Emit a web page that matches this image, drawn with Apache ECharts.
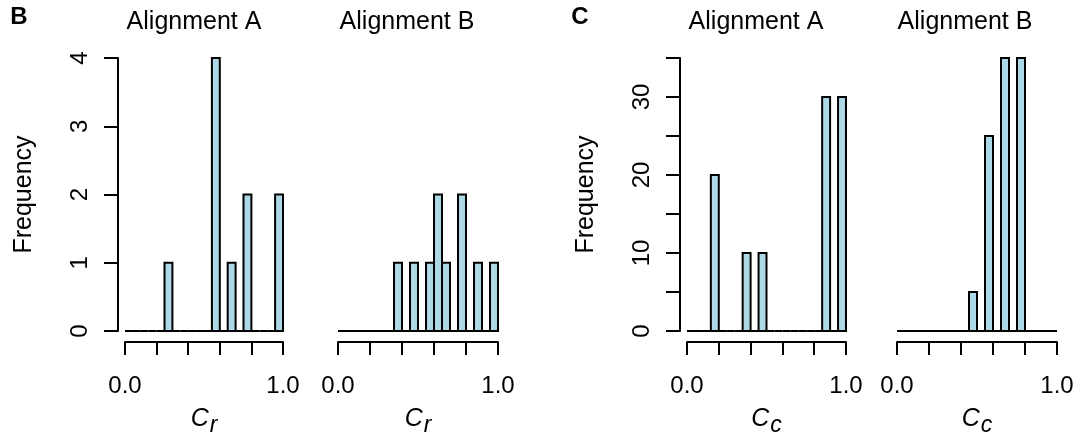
<!DOCTYPE html>
<html>
<head>
<meta charset="utf-8">
<script src="https://cdn.jsdelivr.net/npm/echarts@6/dist/echarts.min.js"></script>
<style>
    html, body { margin: 0; padding: 0; background: #fff; }
    #chart { width: 1077px; height: 438px; }
</style>
</head>
<body>
<div id="chart"></div>
<script>
// bin edges shared by all four histograms
var edges = [0, 0.05, 0.1, 0.15, 0.2, 0.25, 0.3, 0.35, 0.4, 0.45, 0.5,
             0.55, 0.6, 0.65, 0.7, 0.75, 0.8, 0.85, 0.9, 0.95, 1.0];

// counts per bin
var crAlignA = [0, 0, 0, 0, 0, 1, 0, 0, 0, 0, 0, 4, 0, 1, 0, 2, 0, 0, 0, 2];
var crAlignB = [0, 0, 0, 0, 0, 0, 0, 1, 0, 1, 0, 1, 2, 1, 0, 2, 0, 1, 0, 1];
var ccAlignA = [0, 0, 0, 20, 0, 0, 0, 10, 0, 10, 0, 0, 0, 0, 0, 0, 0, 30, 0, 30];
var ccAlignB = [0, 0, 0, 0, 0, 0, 0, 0, 0, 5, 0, 25, 0, 35, 0, 35, 0, 0, 0, 0];

var panelTitles = ['Alignment A', 'Alignment B', 'Alignment A', 'Alignment B'];
var xLabels = ['0.0', '1.0'];

var FONT = 'Liberation Sans';

var chart = echarts.init(document.getElementById('chart'));

function toBins(counts) {
    return counts.map(function (c, i) {
        return [edges[i], edges[i + 1], c];
    });
}

// 直方图的柱子，用坐标系换算
function renderItem(params, api) {
    var p0 = api.coord([api.value(0), api.value(2)]);
    var p1 = api.coord([api.value(1), 0]);
    return {
        type: 'rect',
        shape: { x: p0[0], y: p0[1], width: p1[0] - p0[0], height: p1[1] - p0[1] },
        style: { fill: '#ADD8E6', stroke: '#000', lineWidth: 2 }
    };
}

function xAxisFor(idx, sub) {
    return {
        type: 'value',
        gridIndex: idx,
        min: 0,
        max: 1,
        interval: 0.2,
        position: 'bottom',
        offset: 11,
        axisLine: { show: true, onZero: false, lineStyle: { color: '#000', width: 2 } },
        axisTick: { show: true, length: 13, lineStyle: { color: '#000', width: 2 } },
        splitLine: { show: false },
        axisLabel: {
            margin: 32,
            fontFamily: FONT,
            fontSize: 24,
            color: '#000',
            formatter: function (v) {
                if (Math.abs(v) < 1e-6) return xLabels[0];
                if (Math.abs(v - 1) < 1e-6) return xLabels[1];
                return '';
            }
        },
        name: '{c|C}{s|' + sub + '}',
        nameLocation: 'middle',
        nameGap: 65,
        nameTextStyle: {
            rich: {
                c: { fontFamily: FONT, fontSize: 25, fontStyle: 'italic', color: '#000', lineHeight: 26, verticalAlign: 'top' },
                s: { fontFamily: FONT, fontSize: 23, fontStyle: 'italic', color: '#000', lineHeight: 24, verticalAlign: 'top', padding: [7, 0, 0, 1] }
            }
        }
    };
}

function yAxisFor(idx, max, interval, labelStep, show) {
    return {
        type: 'value',
        gridIndex: idx,
        min: 0,
        max: max,
        interval: interval,
        show: show,
        offset: 7,
        axisLine: { show: true, onZero: false, lineStyle: { color: '#000', width: 2 } },
        axisTick: { show: true, length: 14, lineStyle: { color: '#000', width: 2 } },
        splitLine: { show: false },
        axisLabel: {
            rotate: 90,
            margin: 26,
            fontFamily: FONT,
            fontSize: 24,
            color: '#000',
            formatter: function (v) {
                return v % labelStep === 0 ? String(v) : '';
            }
        },
        name: 'Frequency',
        nameLocation: 'middle',
        nameGap: 81,
        nameTextStyle: { fontFamily: FONT, fontSize: 25, color: '#000' }
    };
}

function titleText(txt, x, y, bold, size) {
    return {
        type: 'text',
        x: x,
        y: y,
        style: {
            text: txt,
            fontFamily: FONT,
            fontSize: size,
            fontWeight: bold ? 'bold' : 'normal',
            fill: '#000',
            textAlign: 'center',
            textVerticalAlign: 'middle'
        }
    };
}

function gridAt(left, width) {
    return { left: left, top: 58, width: width, height: 273, containLabel: false, outerBoundsMode: 'none' };
}

var option = {
    backgroundColor: '#fff',
    animation: false,
    grid: [
        gridAt(125, 158),
        gridAt(338, 160),
        gridAt(687, 159),
        gridAt(897, 160)
    ],
    xAxis: [
        xAxisFor(0, 'r'),
        xAxisFor(1, 'r'),
        xAxisFor(2, 'c'),
        xAxisFor(3, 'c')
    ],
    yAxis: [
        yAxisFor(0, 4, 1, 1, true),
        yAxisFor(1, 4, 1, 1, false),
        yAxisFor(2, 35, 5, 10, true),
        yAxisFor(3, 35, 5, 10, false)
    ],
    graphic: [
        titleText('B', 19, 17, true, 24),
        titleText('C', 580, 17, true, 24),
        titleText(panelTitles[0], 194, 22, false, 25),
        titleText(panelTitles[1], 407, 22, false, 25),
        titleText(panelTitles[2], 756, 22, false, 25),
        titleText(panelTitles[3], 965, 22, false, 25)
    ],
    series: [crAlignA, crAlignB, ccAlignA, ccAlignB].map(function (counts, i) {
        return {
            type: 'custom',
            xAxisIndex: i,
            yAxisIndex: i,
            renderItem: renderItem,
            encode: { x: [0, 1], y: 2 },
            data: toBins(counts)
        };
    })
};

chart.setOption(option);
</script>
</body>
</html>
